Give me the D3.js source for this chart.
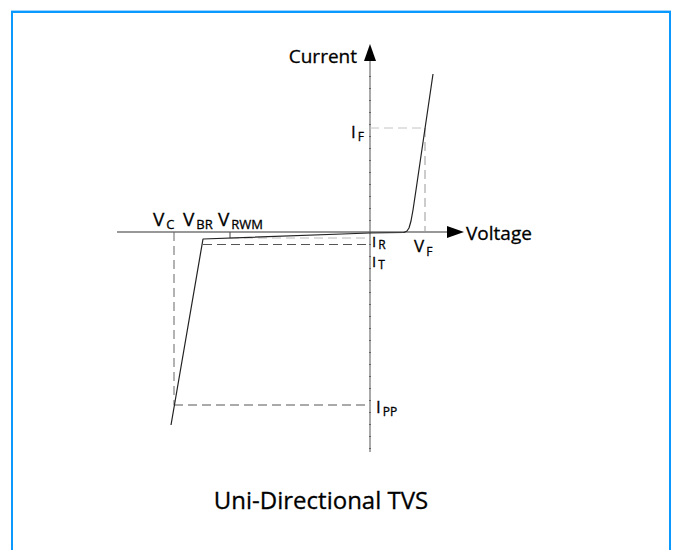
<!DOCTYPE html>
<html>
<head>
<meta charset="utf-8">
<script src="https://cdn.jsdelivr.net/npm/d3@7"></script>
<style>
  html, body { margin: 0; padding: 0; background: #fff; }
  svg { display: block; }
</style>
</head>
<body>
<script>
// Axis extents, in schematic voltage / current units (arrow tips included)
const voltageExtent = [-25.3, 9.4];
const currentExtent = [-22.0, 18.8];

// Characteristic points of the device
const vC = -19.6, vBR = -16.7, vRWM = -14.0, vF = 5.5;
const iF = 10.4, iPP = -17.3, iR = -0.6, iT = -1.25;

// I–V curve: reverse (breakdown / clamping) branch
const reverseV = [-19.9, -16.7, 0];
const reverseI = [-19.3, -0.7, -0.1];
// I–V curve: forward conduction branch
const forwardV = [0, 3.4, 3.7, 3.9, 4.1, 4.3, 4.6, 6.3];
const forwardI = [-0.1, -0.05, 0.1, 0.4, 1.1, 2.2, 4.2, 15.8];

// Minor tick positions on the current axis
const currentTicks = [-21.6, -20.4, -19.2, -18.0, -16.8, -15.6, -14.4, -13.2, -12.0, -10.8,
  -9.6, -8.4, -7.2, -6.0, -4.8, -3.6, -2.4, -1.2, 1.2, 2.4, 3.6, 4.8, 6.0, 7.2, 8.4,
  9.6, 10.8, 12.0, 13.2, 14.4, 15.6];

const W = 674, H = 550;
const FONT = "'Open Sans', 'Noto Sans', sans-serif";

const svg = d3.select("body").append("svg")
  .attr("width", W).attr("height", H)
  .attr("viewBox", `0 0 ${W} ${H}`);

// Frame
svg.append("path")
  .attr("d", `M12,${H + 2} V12 H670 V${H + 2}`)
  .attr("fill", "none")
  .attr("stroke", "#0a9aff")
  .attr("stroke-width", 2);
svg.append("line")
  .attr("x1", 11).attr("x2", 671).attr("y1", 10.5).attr("y2", 10.5)
  .attr("stroke", "#9fd4ff").attr("stroke-width", 1);

const x = d3.scaleLinear().domain(voltageExtent).range([117, 464]);
const y = d3.scaleLinear().domain(currentExtent).range([452, 44]);

const ARROW_LEN = 17, ARROW_HALF = 6;

// Voltage axis
svg.append("line")
  .attr("x1", x(voltageExtent[0])).attr("x2", x(voltageExtent[1]) - ARROW_LEN)
  .attr("y1", y(0)).attr("y2", y(0))
  .attr("stroke", "#333").attr("stroke-width", 1.1);
svg.append("path")
  .attr("d", `M${x(voltageExtent[1])},${y(0)} l${-ARROW_LEN},${-ARROW_HALF} v${2 * ARROW_HALF} Z`)
  .attr("fill", "#000");

// Current axis with fine tick marks
const yAxis = d3.axisRight(y)
  .tickValues(currentTicks)
  .tickSize(1)
  .tickFormat("");
const ya = svg.append("g")
  .attr("transform", `translate(${x(0)},0)`)
  .call(yAxis);
ya.select(".domain").remove();
ya.selectAll(".tick line")
  .attr("x1", -1).attr("x2", 1)
  .attr("stroke", "#777");
svg.append("line")
  .attr("x1", x(0)).attr("x2", x(0))
  .attr("y1", y(currentExtent[0])).attr("y2", y(currentExtent[1]) + ARROW_LEN)
  .attr("stroke", "#555").attr("stroke-width", 1);
svg.append("path")
  .attr("d", `M${x(0)},${y(currentExtent[1])} l${-ARROW_HALF},${ARROW_LEN} h${2 * ARROW_HALF} Z`)
  .attr("fill", "#000");

// Dashed guide lines
const guides = [
  { v1: vC, i1: 0, v2: vC, i2: iPP, c: "#666" },
  { v1: vC, i1: iPP, v2: 0, i2: iPP, c: "#555" },
  { v1: vBR, i1: iT, v2: 0, i2: iT, c: "#555" },
  { v1: vRWM, i1: iR, v2: 0, i2: iR, c: "#bbb" },
  { v1: 0, i1: iF, v2: vF, i2: iF, c: "#c4c4c4" },
  { v1: vF, i1: iF, v2: vF, i2: 0, c: "#999" }
];
svg.append("g").selectAll("line").data(guides).join("line")
  .attr("x1", d => x(d.v1)).attr("y1", d => y(d.i1))
  .attr("x2", d => x(d.v2)).attr("y2", d => y(d.i2))
  .attr("stroke", d => d.c)
  .attr("stroke-width", 1)
  .attr("stroke-dasharray", "9,5");

// V_RWM marker tick
svg.append("line")
  .attr("x1", x(vRWM)).attr("x2", x(vRWM))
  .attr("y1", y(0)).attr("y2", y(iR))
  .attr("stroke", "#444").attr("stroke-width", 1);

// I–V characteristic
const line = d3.line().x(d => x(d[0])).y(d => y(d[1])).curve(d3.curveLinear);
const reversePts = reverseV.map((v, k) => [v, reverseI[k]]);
const forwardPts = forwardV.map((v, k) => [v, forwardI[k]]);
[reversePts, forwardPts].forEach(pts => {
  svg.append("path")
    .attr("d", line(pts))
    .attr("fill", "none")
    .attr("stroke", "#222")
    .attr("stroke-width", 1.2)
    .attr("stroke-linejoin", "round");
});

// Text style shared by every label
function styleText(sel, size) {
  return sel.attr("font-family", FONT)
    .attr("font-size", size)
    .attr("fill", "#000")
    .attr("stroke", "#000")
    .attr("stroke-width", 0.3);
}

// Labels with subscripts
function label(px, py, main, sub, size, subSize, subDy) {
  const t = styleText(svg.append("text").attr("x", px).attr("y", py), size);
  t.append("tspan").text(main);
  if (sub) {
    t.append("tspan")
      .attr("dx", 2)
      .attr("dy", subDy)
      .attr("font-size", subSize)
      .text(sub);
  }
  return t;
}

label(x(vC) - 21, y(0) - 6, "V", "C", 19, 13, 3);
label(x(vBR) - 20, y(0) - 6, "V", "BR", 19, 13, 3);
label(x(vRWM) - 12, y(0) - 6, "V", "RWM", 19, 13, 3);
label(x(vF) - 11, y(0) + 20, "V", "F", 17, 12, 4);
label(x(0) - 19, y(iF) + 10, "I", "F", 17, 12, 3);
label(x(0) + 2, y(iR) + 9, "I", "R", 15, 12, 2);
label(x(0) + 2, y(iT) + 22, "I", "T", 15, 12, 2);
label(x(0) + 6, y(iPP) + 8, "I", "PP", 17, 12, 3);

// Axis titles
styleText(svg.append("text"), 19)
  .attr("x", x(0) - 13).attr("y", y(currentExtent[1]) + 19)
  .attr("text-anchor", "end")
  .text("Current");
styleText(svg.append("text"), 19)
  .attr("x", x(voltageExtent[1]) + 2).attr("y", y(0) + 7.5)
  .text("Voltage");

// Chart title
styleText(svg.append("text"), 24)
  .attr("x", 321).attr("y", 508.5)
  .attr("text-anchor", "middle")
  .text("Uni-Directional TVS");
</script>
</body>
</html>
